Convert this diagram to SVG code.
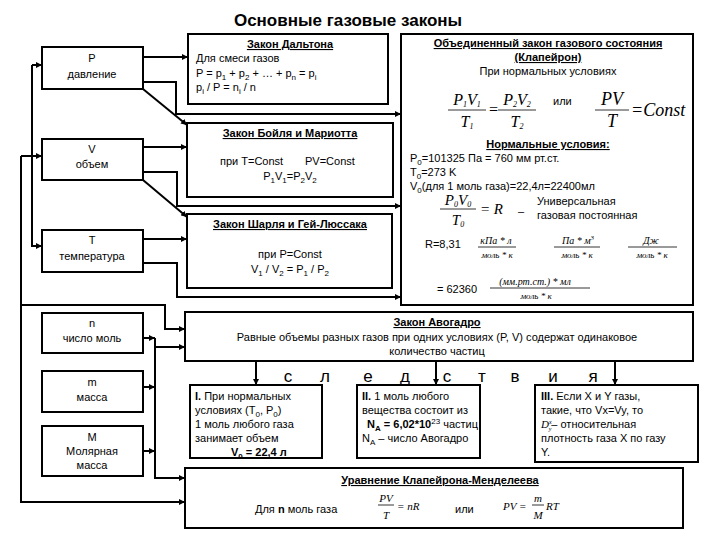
<svg xmlns="http://www.w3.org/2000/svg" width="720" height="540" viewBox="0 0 720 540">
<defs>
<marker id="ah" viewBox="0 0 10 10" refX="10" refY="5" markerWidth="6" markerHeight="6" markerUnits="userSpaceOnUse" orient="auto"><path d="M0,0 L10,5 L0,10 z" fill="#000"/></marker>
<style>
svg{font-size:11px}
text{font-family:"Liberation Sans",Arial,sans-serif;fill:#000}
.t{font-size:17px;font-weight:bold}
.h{font-weight:bold;text-decoration:underline}
.c{text-anchor:middle}
.b{font-weight:bold}
.f{font-family:"Liberation Serif","Times New Roman",serif;font-style:italic}
.sl{font-size:17px}
rect{fill:#fff;stroke:#000;stroke-width:2}
#connectors path,#connectors line{fill:none;stroke:#000;stroke-width:2}
.a{marker-end:url(#ah)}
.fl{stroke:#000;stroke-width:0.8}
</style>
</defs>
<rect x="0" y="0" width="720" height="540" style="stroke:none"/>
<text class="t c" x="348" y="26">Основные газовые законы</text>

<g id="connectors">
<line class="a" x1="143" y1="57" x2="188" y2="57"/>
<path class="a" d="M143,82 H176 V114 H401"/>
<line class="a" x1="143" y1="89" x2="187" y2="125"/>
<line class="a" x1="143" y1="147" x2="187" y2="147"/>
<path class="a" d="M143,172 H177 V206 H401"/>
<line class="a" x1="143" y1="180" x2="187" y2="217"/>
<line class="a" x1="143" y1="239" x2="187" y2="239"/>
<path class="a" d="M143,263 H177 V297 H401"/>
<line x1="32" y1="65" x2="32" y2="247"/>
<line class="a" x1="32" y1="65" x2="42" y2="65"/>
<line class="a" x1="32" y1="246" x2="42" y2="246"/>
<line class="a" x1="21" y1="156" x2="42" y2="156"/>
<path class="a" d="M21,156 V502 H185"/>
<path class="a" d="M21,305 H165 V329 H185"/>
<line class="a" x1="143" y1="338" x2="155" y2="338"/>
<line class="a" x1="143" y1="387" x2="155" y2="387"/>
<line class="a" x1="143" y1="451" x2="155" y2="451"/>
<path class="a" d="M155,338 V478 H185"/>
<line class="a" x1="155" y1="347" x2="185" y2="347"/>
<line class="a" x1="256" y1="362" x2="256" y2="385"/>
<line class="a" x1="436" y1="362" x2="436" y2="385"/>
<line class="a" x1="615" y1="362" x2="615" y2="385"/>
</g>

<g id="node-P"><rect x="42" y="47" width="101" height="42"/><text class="c" x="92" y="62">P</text><text class="c" x="92" y="78">давление</text></g>
<g id="node-V"><rect x="42" y="139" width="101" height="41"/><text class="c" x="92" y="153">V</text><text class="c" x="92" y="168">объем</text></g>
<g id="node-T"><rect x="42" y="230" width="101" height="42"/><text class="c" x="92" y="244">T</text><text class="c" x="92" y="260">температура</text></g>
<g id="node-n"><rect x="42" y="313" width="101" height="40"/><text class="c" x="92" y="327">n</text><text class="c" x="92" y="342">число моль</text></g>
<g id="node-m"><rect x="42" y="371" width="101" height="41"/><text class="c" x="92" y="386">m</text><text class="c" x="92" y="401">масса</text></g>
<g id="node-M"><rect x="42" y="426" width="101" height="50"/><text class="c" x="92" y="441">M</text><text class="c" x="92" y="455">Молярная</text><text class="c" x="92" y="469">масса</text></g>

<g id="node-dalton"><rect x="188" y="34" width="200" height="70"/>
<text class="h c" x="290" y="48">Закон Дальтона</text>
<text x="196" y="62">Для смеси газов</text>
<text x="196" y="77">P = p<tspan font-size="8" dy="3">1</tspan><tspan dy="-3"> + p</tspan><tspan font-size="8" dy="3">2</tspan><tspan dy="-3"> + … + p</tspan><tspan font-size="8" dy="3">n</tspan><tspan dy="-3"> =  p</tspan><tspan font-size="8" dy="3">i</tspan></text>
<text x="196" y="91">p<tspan font-size="8" dy="3">i</tspan><tspan dy="-3"> / P = n</tspan><tspan font-size="8" dy="3">i</tspan><tspan dy="-3"> / n</tspan></text>
</g>

<g id="node-boyle"><rect x="187" y="123" width="206" height="74"/>
<text class="h c" x="290" y="137">Закон Бойля и Мариотта</text>
<text x="220" y="165">при T=Const</text>
<text x="305" y="165">PV=Const</text>
<text class="c" x="290" y="180">P<tspan font-size="8" dy="3">1</tspan><tspan dy="-3">V</tspan><tspan font-size="8" dy="3">1</tspan><tspan dy="-3">=P</tspan><tspan font-size="8" dy="3">2</tspan><tspan dy="-3">V</tspan><tspan font-size="8" dy="3">2</tspan></text>
</g>

<g id="node-charles"><rect x="187" y="214" width="205" height="74"/>
<text class="h c" x="290" y="228">Закон Шарля и Гей-Люссака</text>
<text class="c" x="290" y="258">при P=Const</text>
<text class="c" x="290" y="273">V<tspan font-size="8" dy="3">1</tspan><tspan dy="-3"> / V</tspan><tspan font-size="8" dy="3">2</tspan><tspan dy="-3"> = P</tspan><tspan font-size="8" dy="3">1</tspan><tspan dy="-3"> / P</tspan><tspan font-size="8" dy="3">2</tspan></text>
</g>

<g id="node-clapeyron"><rect x="401" y="34" width="292" height="271"/>
<text class="h c" x="548" y="47">Объединенный закон газового состояния</text>
<text class="h c" x="548" y="61">(Клапейрон)</text>
<text class="c" x="548" y="75">При нормальных условиях</text>
<text class="f c" x="467" y="105" font-size="16">P<tspan font-size="8" dy="2">1</tspan><tspan dy="-2">V</tspan><tspan font-size="8" dy="2">1</tspan></text>
<line class="fl" x1="448" y1="110" x2="486" y2="110"/>
<text class="f c" x="467" y="127" font-size="16">T<tspan font-size="8" dy="2">1</tspan></text>
<text class="f" x="488" y="115" font-size="16">=</text>
<text class="f c" x="517" y="105" font-size="16">P<tspan font-size="8" dy="2">2</tspan><tspan dy="-2">V</tspan><tspan font-size="8" dy="2">2</tspan></text>
<line class="fl" x1="498" y1="110" x2="536" y2="110"/>
<text class="f c" x="517" y="127" font-size="16">T<tspan font-size="8" dy="2">2</tspan></text>
<text x="553" y="105">или</text>
<text class="f c" x="612" y="105" font-size="18">PV</text>
<line class="fl" x1="595" y1="110" x2="629" y2="110"/>
<text class="f c" x="612" y="127" font-size="18">T</text>
<text class="f" x="631" y="116" font-size="18">=Const</text>
<text class="h c" x="548" y="148">Нормальные условия:</text>
<text x="410" y="162">P<tspan font-size="8" dy="3">0</tspan><tspan dy="-3">=101325 Па = 760 мм рт.ст.</tspan></text>
<text x="410" y="176">T<tspan font-size="8" dy="3">0</tspan><tspan dy="-3">=273 K</tspan></text>
<text x="410" y="190">V<tspan font-size="8" dy="3">0</tspan><tspan dy="-3">(для 1 моль газа)=22,4л=22400мл</tspan></text>
<text class="f c" x="458" y="205" font-size="15">P<tspan font-size="8" dy="2">0</tspan><tspan dy="-2">V</tspan><tspan font-size="8" dy="2">0</tspan></text>
<line class="fl" x1="440" y1="209" x2="476" y2="209"/>
<text class="f c" x="458" y="225" font-size="15">T<tspan font-size="8" dy="2">0</tspan></text>
<text class="f" x="480" y="214" font-size="15">= R</text>
<text x="518" y="215">–</text>
<text x="537" y="205">Универсальная</text>
<text x="537" y="219">газовая постоянная</text>
<text x="425" y="248">R=8,31</text>
<text class="f c" x="496" y="244" font-size="10">кПа * л</text>
<line class="fl" x1="478" y1="247" x2="516" y2="247"/>
<text class="f c" x="497" y="258" font-size="9">моль * к</text>
<text class="f c" x="578" y="244" font-size="10">Па * м<tspan font-size="7" dy="-4">3</tspan></text>
<line class="fl" x1="554" y1="247" x2="600" y2="247"/>
<text class="f c" x="577" y="258" font-size="9">моль * к</text>
<text class="f c" x="651" y="244" font-size="10">Дж</text>
<line class="fl" x1="628" y1="247" x2="677" y2="247"/>
<text class="f c" x="652" y="258" font-size="9">моль   * к</text>
<text x="437" y="293">= 62360</text>
<text class="f c" x="535" y="285" font-size="10">(мм.рт.ст.) * мл</text>
<line class="fl" x1="490" y1="288" x2="590" y2="288"/>
<text class="f c" x="536" y="299" font-size="9">моль * к</text>
</g>

<g id="node-avogadro"><rect x="185" y="312" width="508" height="49"/>
<text class="h c" x="437" y="326">Закон Авогадро</text>
<text class="c" x="437" y="341">Равные объемы разных газов при одних условиях (P, V) содержат одинаковое</text>
<text class="c" x="437" y="355">количество частиц</text>
</g>

<g id="label-sledstviya">
<text class="sl c" x="288" y="382">с</text><text class="sl c" x="325" y="382">л</text><text class="sl c" x="368" y="382">е</text><text class="sl c" x="405" y="382">д</text><text class="sl c" x="447" y="382">с</text><text class="sl c" x="482" y="382">т</text><text class="sl c" x="515" y="382">в</text><text class="sl c" x="553" y="382">и</text><text class="sl c" x="593" y="382">я</text>
</g>

<g id="node-c1"><rect x="190" y="385" width="132" height="73"/>
<text x="195" y="400"><tspan class="b">I.</tspan> При нормальных</text>
<text x="195" y="414">условиях (T<tspan font-size="8" dy="3">0</tspan><tspan dy="-3">, P</tspan><tspan font-size="8" dy="3">0</tspan><tspan dy="-3">)</tspan></text>
<text x="195" y="428">1 моль любого газа</text>
<text x="195" y="442">занимает объем</text>
<text class="b" x="231" y="456">V<tspan font-size="8" dy="3">0</tspan><tspan dy="-3"> = 22,4 л</tspan></text>
</g>

<g id="node-c2"><rect x="357" y="385" width="123" height="73"/>
<text x="362" y="400"><tspan class="b">II.</tspan> 1 моль любого</text>
<text x="362" y="414">вещества состоит из</text>
<text x="367" y="428"><tspan class="b">N</tspan><tspan class="b" font-size="8" dy="3">A</tspan><tspan class="b" dy="-3"> = 6,02*10</tspan><tspan font-size="8" dy="-4">23</tspan><tspan dy="4"> частиц</tspan></text>
<text x="362" y="442">N<tspan font-size="8" dy="3">A</tspan><tspan dy="-3"> – число Авогадро</tspan></text>
</g>

<g id="node-c3"><rect x="535" y="385" width="163" height="77"/>
<text x="541" y="400"><tspan class="b">III.</tspan> Если X и Y газы,</text>
<text x="541" y="414">такие, что Vx=Vy, то</text>
<text x="541" y="428"><tspan class="f">D</tspan><tspan class="f" font-size="6" dy="-4">x</tspan><tspan class="f" font-size="6" dx="-3" dy="7">y</tspan><tspan dy="-3">– относительная</tspan></text>
<text x="541" y="442">плотность газа X по газу</text>
<text x="541" y="456">Y.</text>
</g>

<g id="node-cm"><rect x="185" y="468" width="498" height="60"/>
<text class="h c" x="440" y="484">Уравнение Клапейрона-Менделеева</text>
<text x="255" y="513">Для <tspan class="b">n</tspan> моль газа</text>
<text class="f c" x="386" y="502" font-size="11">PV</text>
<line class="fl" x1="378" y1="505" x2="394" y2="505"/>
<text class="f c" x="386" y="519" font-size="11">T</text>
<text class="f" x="397" y="510" font-size="11">= nR</text>
<text x="455" y="513">или</text>
<text class="f" x="503" y="510" font-size="11">PV =</text>
<text class="f c" x="538" y="502" font-size="11">m</text>
<line class="fl" x1="532" y1="505" x2="544" y2="505"/>
<text class="f c" x="538" y="519" font-size="11">M</text>
<text class="f" x="546" y="510" font-size="11">RT</text>
</g>
</svg>
